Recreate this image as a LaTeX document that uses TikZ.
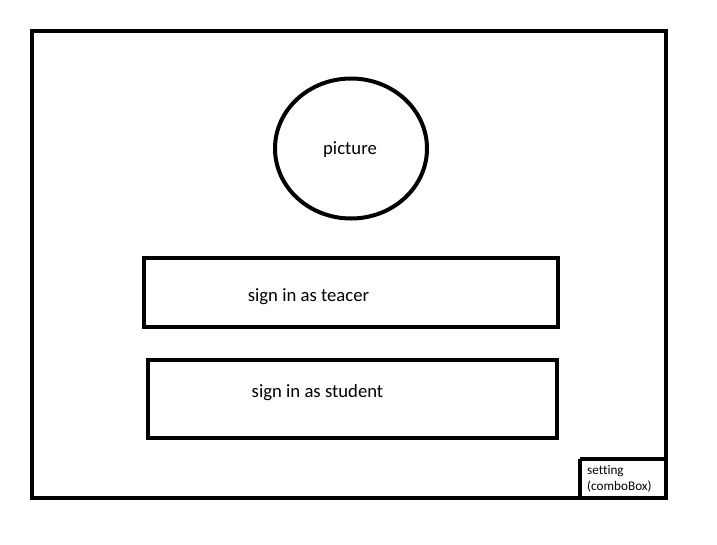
\documentclass[tikz,border=0pt]{standalone}
\usepackage{fontspec}
\setmainfont{Carlito}[Ligatures=NoCommon]
\begin{document}
\begin{tikzpicture}[x=1pt,y=-1pt,
  frame/.style={draw=black,line width=4pt},
  label/.style={font=\fontsize{18.7pt}{22pt}\selectfont,inner sep=0pt}]
\useasboundingbox[fill=white] (0,0) rectangle (717,544);
% outer window
\draw[frame] (31.5,31) rectangle (666,498);
% avatar placeholder
\draw[frame] (351,148.5) ellipse [x radius=76, y radius=70];
\node[label] (pic) at (350,149.5) {picture};
% login buttons
\draw[frame] (144,258) rectangle (557.5,327);
\node[label] (teacher) at (308.5,296.5) {sign in as teacer};
\draw[frame] (148,360) rectangle (556.5,438);
\node[label] (student) at (317.5,392.5) {sign in as student};
% settings corner box
\draw[frame] (580,459) -- (666,459);
\draw[frame] (580,459) -- (580,498);
\node[font=\fontsize{13.2pt}{16pt}\selectfont,inner sep=0pt,align=left,anchor=north west] (setting) at (587,465.5) {setting\\(comboBox)};
\end{tikzpicture}
\end{document}
